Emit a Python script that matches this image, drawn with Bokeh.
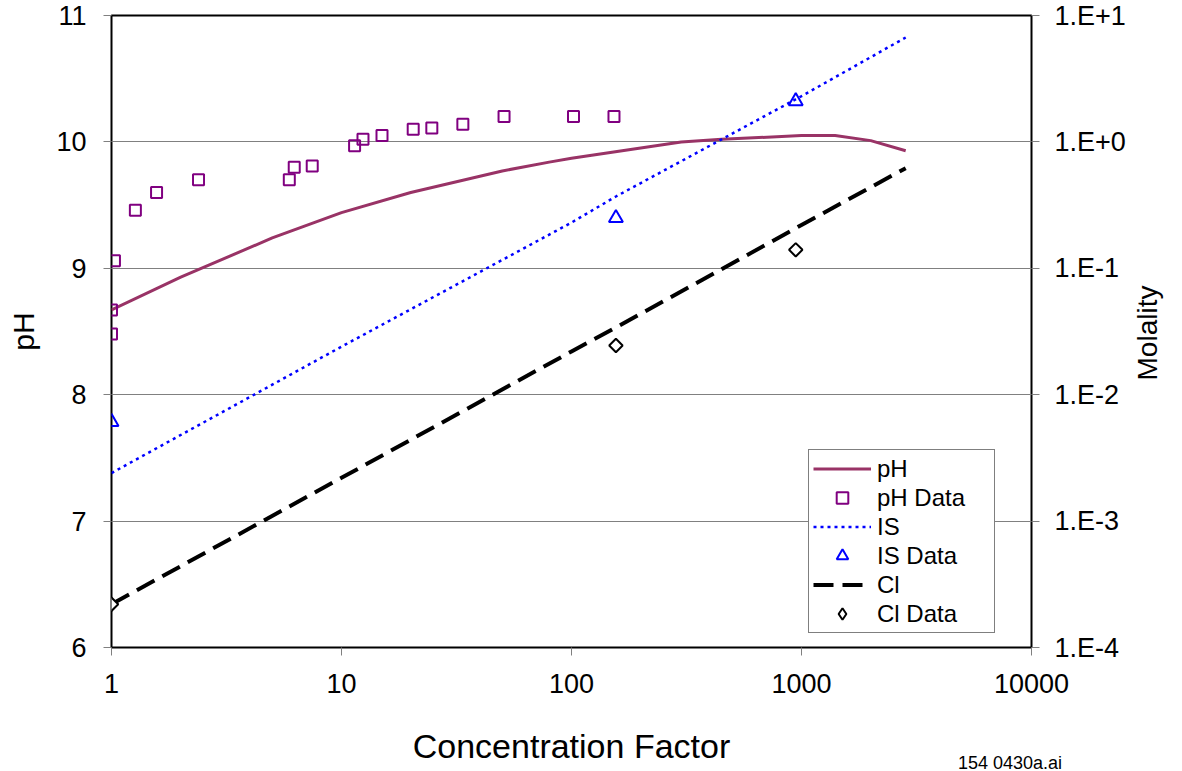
import math
from bokeh.plotting import figure
from bokeh.models import (Range1d, LogScale, LogAxis, LinearAxis, FixedTicker, CustomJSTickFormatter,
                          Legend, LegendItem, Div)
from bokeh.layouts import column
from bokeh.embed import file_html
from bokeh.resources import INLINE

# ---------------- data ----------------
x_tick_vals = [1, 10, 100, 1000, 10000]
x_tick_labels = ["1", "10", "100", "1000", "10000"]
ph_tick_vals = [6, 7, 8, 9, 10, 11]
mol_tick_vals = [1e-4, 1e-3, 1e-2, 1e-1, 1e0, 1e1]
mol_tick_labels = ["1.E-4", "1.E-3", "1.E-2", "1.E-1", "1.E+0", "1.E+1"]
x_title = "Concentration Factor"
ph_title = "pH"
mol_title = "Molality"
file_note = "154 0430a.ai"

# pH model curve
cf_ph = [1, 2, 5, 10, 20, 50, 80, 100, 300, 450, 1000, 1400, 2000, 2838]
ph_model = [8.67, 8.93, 9.24, 9.44, 9.60, 9.77, 9.84, 9.87, 10.00, 10.02, 10.05, 10.05, 10.01, 9.93]

# pH measured data
cf_ph_data = [1.0, 1.0, 1.03, 1.27, 1.57, 2.39, 5.93, 6.23, 7.46, 11.4, 12.4, 15.0, 20.5, 24.7, 33.7, 50.9, 102, 153]
ph_data = [8.48, 8.67, 9.06, 9.46, 9.60, 9.70, 9.70, 9.80, 9.81, 9.97, 10.02, 10.05, 10.10, 10.11, 10.14, 10.20, 10.20, 10.20]

# Ionic strength model / data (molality)
cf_is = [1, 10, 100, 156, 1000, 2838]
is_model = [0.0024, 0.024, 0.23, 0.37, 2.3, 6.7]
cf_is_data = [1, 156, 944]
is_data = [0.0061, 0.25, 2.1]

# Chloride model / data (molality)
cf_cl = [1, 10, 100, 156, 1000, 2838]
cl_model = [0.00022, 0.0022, 0.022, 0.034, 0.22, 0.62]
cf_cl_data = [1, 156, 944]
cl_data = [0.00022, 0.0245, 0.14]

FONT = "Liberation Sans"

p = figure(width=1182, height=771, x_axis_type="log",
           x_range=Range1d(1, 10000), y_range=Range1d(6, 11),
           output_backend="svg", toolbar_location=None,
           min_border_left=111, min_border_right=151,
           min_border_top=15, min_border_bottom=124,
           background_fill_color="white", border_fill_color="white")
# "lab" is a 0..1 helper range that only places the right-hand title
p.extra_y_ranges = {"mol": Range1d(1e-4, 10), "lab": Range1d(0, 1)}
p.extra_y_scales = {"mol": LogScale()}

p.outline_line_color = "black"
p.outline_line_width = 2
p.xgrid.grid_line_color = None
p.ygrid.grid_line_color = "#808080"
p.ygrid.grid_line_width = 1
p.ygrid.ticker = FixedTicker(ticks=ph_tick_vals)

TICK_JS = """
for (let i = 0; i < vals.length; i++) {
  if (Math.abs(Math.log10(tick) - Math.log10(vals[i])) < 1e-6) return labels[i];
}
return '';
"""

# x axis
xa = p.xaxis[0]
xa.ticker = FixedTicker(ticks=x_tick_vals)
xa.formatter = CustomJSTickFormatter(args=dict(vals=x_tick_vals, labels=x_tick_labels), code=TICK_JS)
xa.axis_label = x_title

# left axis
ya = p.yaxis[0]
ya.ticker = FixedTicker(ticks=ph_tick_vals)
ya.axis_label = ph_title

# right axis (molality, log)
ra = LogAxis(y_range_name="mol", ticker=FixedTicker(ticks=mol_tick_vals),
             formatter=CustomJSTickFormatter(args=dict(vals=mol_tick_vals, labels=mol_tick_labels),
                                             code=TICK_JS))
p.add_layout(ra, "right")

# right-side title, drawn bottom-to-top and centred on the frame
# (the rotated label starts at its anchor, so the anchor sits half a label length below centre)
ta = LinearAxis(y_range_name="lab", ticker=FixedTicker(ticks=[0.4225]),
                formatter=CustomJSTickFormatter(args=dict(t=mol_title), code="return t;"),
                major_label_orientation=math.pi / 2)
p.add_layout(ta, "right")

for ax in [xa, ya, ra, ta]:
    ax.axis_line_color = None
    ax.major_tick_line_color = "#808080"
    ax.major_tick_line_width = 1
    ax.major_tick_in = 0
    ax.major_tick_out = 8
    ax.minor_tick_line_color = None
    ax.major_label_text_font = FONT
    ax.major_label_text_font_size = "27px"
    ax.major_label_text_color = "black"
    ax.axis_label_text_font = FONT
    ax.axis_label_text_font_style = "normal"
    ax.axis_label_text_color = "black"

xa.major_label_standoff = 18
xa.axis_label_text_font_size = "34px"
xa.axis_label_standoff = 31
ya.major_label_standoff = 17
ya.axis_label_text_font_size = "30px"
ya.axis_label_standoff = 13
ra.major_label_standoff = 15
ta.major_tick_line_color = None
ta.major_tick_out = 0
ta.major_label_standoff = 19
ta.major_label_text_font_size = "28px"

# glyphs
r_ph = p.line(cf_ph, ph_model, line_color="#993366", line_width=3)
r_phd = p.scatter(cf_ph_data, ph_data, marker="square", size=11, line_color="#800080",
                  line_width=2, fill_color=None)
r_is = p.line(cf_is, is_model, y_range_name="mol", line_color="#0000FF", line_width=2.5,
              line_dash="3 4")
r_isd = p.scatter(cf_is_data, is_data, y_range_name="mol", marker="triangle", size=14,
                  line_color="#0000FF", line_width=2, fill_color=None)
r_cl = p.line(cf_cl, cl_model, y_range_name="mol", line_color="black", line_width=4,
              line_dash="20 9")
r_cld = p.scatter(cf_cl_data, cl_data, y_range_name="mol", marker="square", angle=math.pi / 4,
                  size=9.5, line_color="black", line_width=2, fill_color="white")
# hidden twin used only for the legend swatch (legend swatches are never rotated)
r_cld_key = p.scatter(cf_cl_data, cl_data, y_range_name="mol", marker="diamond",
                      line_color="black", line_width=2, fill_color="white", visible=False)

legend = Legend(items=[
    LegendItem(label="pH", renderers=[r_ph]),
    LegendItem(label="pH Data", renderers=[r_phd]),
    LegendItem(label="IS", renderers=[r_is]),
    LegendItem(label="IS Data", renderers=[r_isd]),
    LegendItem(label="Cl", renderers=[r_cl]),
    LegendItem(label="Cl Data", renderers=[r_cld_key]),
], location=(697, 14), margin=0, padding=4, spacing=0,
    glyph_width=58, glyph_height=29, label_height=29, label_width=113,
    label_standoff=6, label_text_font=FONT, label_text_font_size="24px",
    label_text_color="black", click_policy="none",
    border_line_color="black", border_line_width=1.5,
    background_fill_color="white", background_fill_alpha=1)
p.add_layout(legend, "center")

note = Div(text=file_note, width=130, height=18, margin=(-18, 0, 0, 958),
           styles={"font-family": FONT, "font-size": "18px", "color": "black",
                   "line-height": "20px", "white-space": "nowrap"})

layout = column(p, note, spacing=0)
open("out.html", "w").write(file_html(layout, INLINE))
